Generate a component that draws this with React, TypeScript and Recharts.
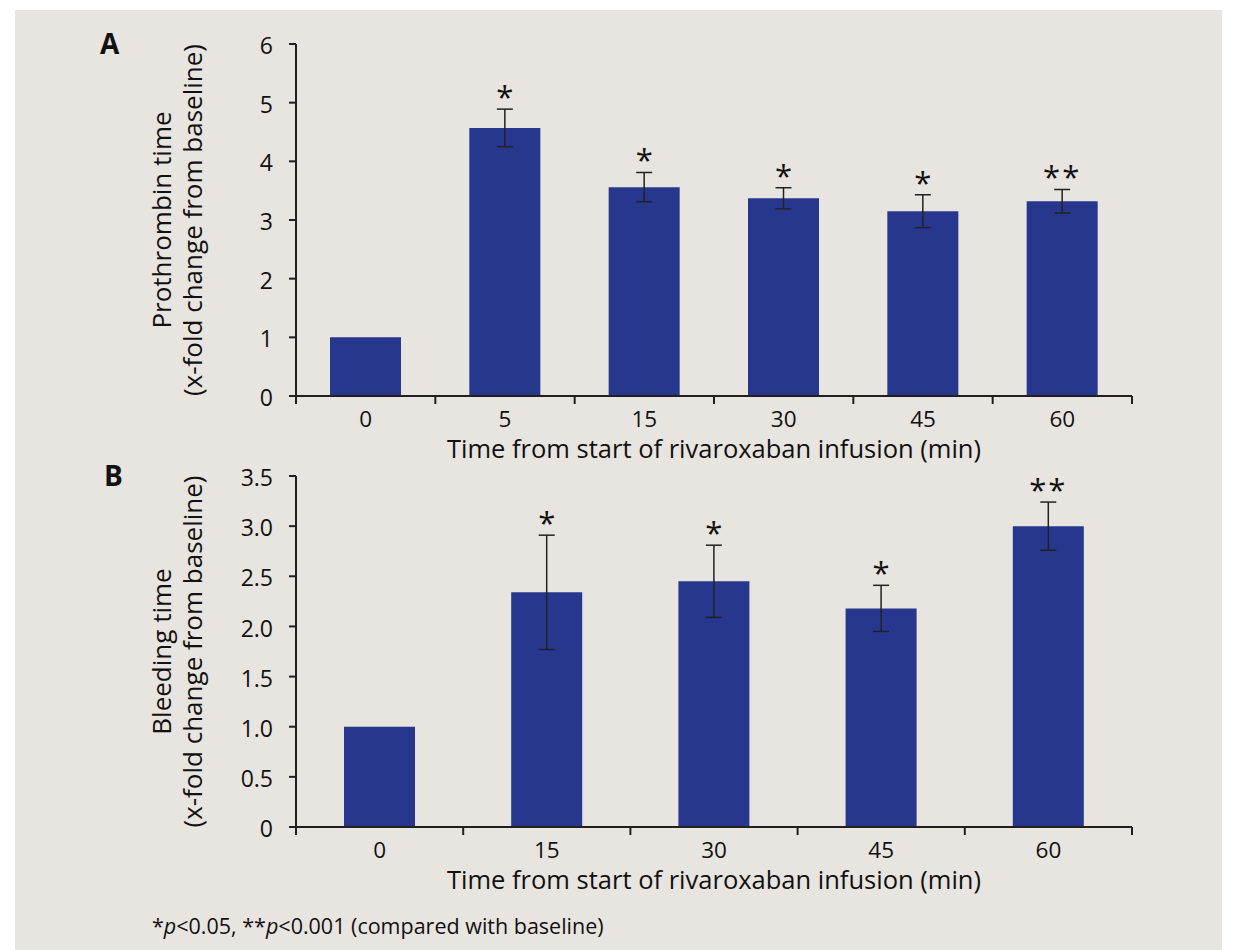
import React from 'react';
import { BarChart, Bar, XAxis, YAxis, ErrorBar, LabelList, Label } from 'recharts';

// Panel A: prothrombin time
const ptTimes = ['0', '5', '15', '30', '45', '60'];
const ptValues = [1.0, 4.57, 3.56, 3.37, 3.15, 3.32];
const ptErrors = [null, 0.32, 0.25, 0.18, 0.28, 0.2];
const ptSig = ['', '*', '*', '*', '*', '**'];
const ptTicks = [0, 1, 2, 3, 4, 5, 6];

// Panel B: bleeding time
const btTimes = ['0', '15', '30', '45', '60'];
const btValues = [1.0, 2.34, 2.45, 2.18, 3.0];
const btErrors = [null, 0.57, 0.36, 0.23, 0.24];
const btSig = ['', '*', '*', '*', '**'];
const btTicks = [0, 0.5, 1, 1.5, 2, 2.5, 3, 3.5];

const BAR = '#27378E';
const INK = '#231F20';
const FONT = '"Open Sans", "Noto Sans", sans-serif';

const xTitle = 'Time from start of rivaroxaban infusion (min)';

function makeTick(n: number) {
  return function BoundaryTick(props: any) {
    const { x, y, payload, index, width } = props;
    const half = payload && payload.offset != null ? payload.offset : width / (2 * n);
    return (
      <g>
        <line x1={x - half} x2={x - half} y1={y} y2={y + 8} stroke={INK} strokeWidth={2} />
        {index === n - 1 && (
          <line x1={x + half} x2={x + half} y1={y} y2={y + 8} stroke={INK} strokeWidth={2} />
        )}
        <text x={x} y={y + 31} textAnchor="middle" fontSize={22.5} fill="#111" fontFamily={FONT}>
          {payload.value}
        </text>
      </g>
    );
  };
}

function makeStar(values: number[], errors: (number | null)[]) {
  return function Star(props: any) {
    const { x, y, width, height, value, index } = props;
    if (!value) return null;
    const pxPerUnit = height / values[index];
    const top = y - (errors[index] || 0) * pxPerUnit;
    return (
      <text
        x={x + width / 2}
        y={top - 1}
        textAnchor="middle"
        fontSize={31}
        fill="#111"
        fontFamily={FONT}
        letterSpacing={value.length > 1 ? 2 : 0}
      >
        {value}
      </text>
    );
  };
}

function yTitle(line1: string, line2: string) {
  return function YTitle(props: any) {
    const { viewBox } = props;
    const cy = viewBox.y + viewBox.height / 2;
    const x1 = viewBox.x + 35;
    const x2 = viewBox.x + 66;
    return (
      <g fontFamily={FONT} fontSize={26} fill="#111">
        <text x={x1} y={cy} textAnchor="middle" transform={`rotate(-90, ${x1}, ${cy})`}>
          {line1}
        </text>
        <text x={x2} y={cy} textAnchor="middle" transform={`rotate(-90, ${x2}, ${cy})`}>
          {line2}
        </text>
      </g>
    );
  };
}

function Panel(props: {
  cats: string[];
  values: number[];
  errors: (number | null)[];
  sig: string[];
  ticks: number[];
  max: number;
  height: number;
  top: number;
  xAxisHeight: number;
  titleOffset: number;
  line1: string;
  fmt: (v: number) => string;
}) {
  const data = props.cats.map((c, i) => ({
    time: c,
    value: props.values[i],
    err: props.errors[i],
    sig: props.sig[i],
  }));
  return (
    <BarChart
      width={1236}
      height={props.height}
      data={data}
      margin={{ top: props.top, right: 104, left: 136, bottom: 0 }}
    >
      <XAxis
        dataKey="time"
        height={props.xAxisHeight}
        tickLine={false}
        tickSize={0}
        tickMargin={0}
        axisLine={{ stroke: INK, strokeWidth: 2 }}
        tick={makeTick(props.cats.length)}
        interval={0}
      >
        <Label
          value={xTitle}
          position="insideBottom"
          offset={props.titleOffset}
          style={{ fontSize: 25.5, fill: '#111', fontFamily: FONT }}
        />
      </XAxis>
      <YAxis
        width={160}
        domain={[0, props.max]}
        ticks={props.ticks}
        tickFormatter={props.fmt}
        tickSize={7}
        tickMargin={16}
        interval={0}
        axisLine={{ stroke: INK, strokeWidth: 2 }}
        tickLine={{ stroke: INK, strokeWidth: 2 }}
        tick={{ fill: '#111', fontSize: 23, fontFamily: FONT, dy: 2 }}
      >
        <Label content={yTitle(props.line1, '(x-fold change from baseline)')} />
      </YAxis>
      <Bar dataKey="value" fill={BAR} barSize={71} isAnimationActive={false}>
        <ErrorBar dataKey="err" width={8} strokeWidth={1.5} stroke="#222" direction="y" />
        <LabelList dataKey="sig" content={makeStar(props.values, props.errors)} />
      </Bar>
    </BarChart>
  );
}

export default function App() {
  return (
    <div style={{ position: 'absolute', left: 0, top: 0, width: 1236, height: 950, background: '#fff' }}>
      <div
        style={{
          position: 'absolute',
          left: 15,
          top: 10,
          width: 1207,
          height: 940,
          background: '#E8E4DF',
        }}
      />
      <div style={{ position: 'absolute', left: 0, top: 0 }}>
        <Panel
          cats={ptTimes}
          values={ptValues}
          errors={ptErrors}
          sig={ptSig}
          ticks={ptTicks}
          max={6}
          height={480}
          top={44}
          xAxisHeight={84}
          titleOffset={22}
          line1="Prothrombin time"
          fmt={(v) => String(v)}
        />
      </div>
      <div style={{ position: 'absolute', left: 0, top: 440 }}>
        <Panel
          cats={btTimes}
          values={btValues}
          errors={btErrors}
          sig={btSig}
          ticks={btTicks}
          max={3.5}
          height={470}
          top={36}
          xAxisHeight={83}
          titleOffset={21}
          line1="Bleeding time"
          fmt={(v) => (v === 0 ? '0' : v.toFixed(1))}
        />
      </div>
      <div
        style={{
          position: 'absolute',
          left: 100,
          top: 24,
          fontFamily: FONT,
          fontWeight: 700,
          fontSize: 28,
          color: '#111',
        }}
      >
        A
      </div>
      <div
        style={{
          position: 'absolute',
          left: 104,
          top: 456,
          fontFamily: FONT,
          fontWeight: 700,
          fontSize: 28,
          color: '#111',
        }}
      >
        B
      </div>
      <div
        style={{
          position: 'absolute',
          left: 152,
          top: 911,
          fontFamily: FONT,
          fontSize: 21.5,
          color: '#111',
          whiteSpace: 'nowrap',
        }}
      >
        *<i>p</i>&lt;0.05, **<i>p</i>&lt;0.001 (compared with baseline)
      </div>
    </div>
  );
}
